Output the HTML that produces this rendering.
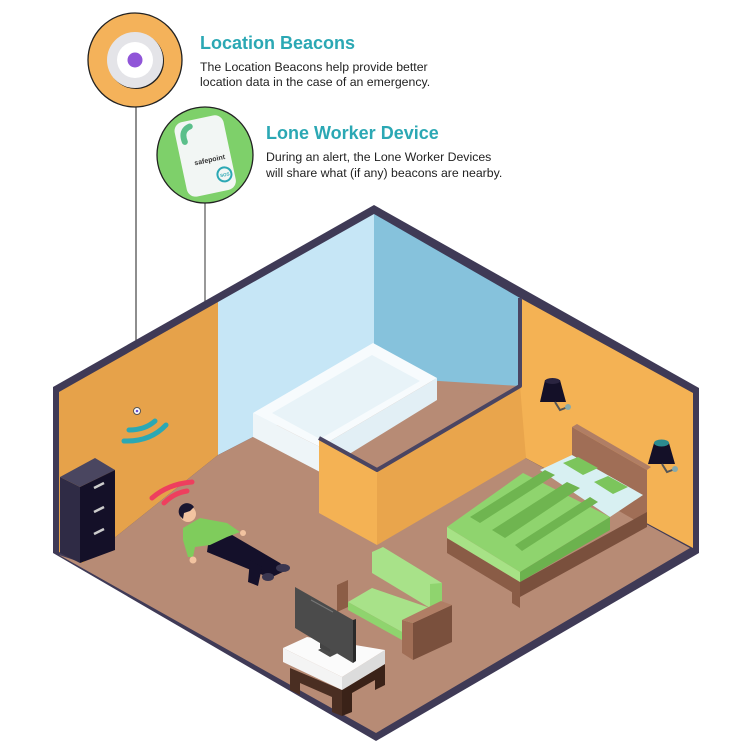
<!DOCTYPE html>
<html><head><meta charset="utf-8"><style>
html,body{margin:0;padding:0;background:#fff;width:750px;height:754px;overflow:hidden}
svg{display:block}
.h{font-family:"Liberation Sans",sans-serif;font-weight:bold;fill:#2ba8b4;font-size:18px}
.b{font-family:"Liberation Sans",sans-serif;fill:#222;font-size:12.3px}
</style></head><body>
<svg width="750" height="754" viewBox="0 0 750 754" xmlns="http://www.w3.org/2000/svg">
<line x1="136" y1="100" x2="136" y2="410" stroke="#444" stroke-width="1.2"/>
<line x1="205" y1="200" x2="205" y2="520" stroke="#555" stroke-width="1.2"/>
<polygon points="374,205 53,387 53,553 376,741 699,553 699,388" fill="#3f3a56"/>
<polygon points="59,392 218,302 218,455 83,563 59,552" fill="#e6a24a"/>
<polygon points="218,302 374,214 374,377 253,437 218,455" fill="#c6e6f6"/>
<polygon points="374,214 520,298 520,400 374,377" fill="#86c2dc"/>
<polygon points="520,298 693,393 693,548 520,455" fill="#f4b254"/>
<polygon points="83,563 218,455 253,437 374,377 520,386 520,455 690,548 376,733 59,555" fill="#b78b75"/>
<polygon points="374,377 417,403 463,420 520,390 520,400" fill="#b78b75"/>
<polygon points="320,472 437,394 463,420 377,470" fill="#b78b75"/>
<!-- tub -->
<polygon points="253,413 320,447 320,472 253,437" fill="#eef5f8"/>
<polygon points="320,447 437,378 437,400 320,472" fill="#e2eff5"/>
<polygon points="253,413 373,343 437,378 320,447" fill="#f7fbfd"/>
<polygon points="272,413 372,355 420,381 320,439" fill="#e8f3f8"/>
<!-- partition -->
<polygon points="319,438 377,470 377,545 319,513" fill="#f4b254"/>
<polygon points="377,470 520,386 526,458 377,545" fill="#e9a54c"/>
<polyline points="319,438 377,470 520,386 520,298" fill="none" stroke="#4a4562" stroke-width="4" stroke-linejoin="round"/>
<g>
<path d="M545,380 L560,380 L566,402 L540,402 Z" fill="#141028"/>
<ellipse cx="552.5" cy="381" rx="7.5" ry="3" fill="#2a2440"/>
<path d="M555,402 L560,410 L568,407" stroke="#555" stroke-width="2" fill="none"/>
<circle cx="568" cy="407" r="3" fill="#8aa"/>
<path d="M654,443 L669,443 L675,464 L648,464 Z" fill="#141028"/>
<ellipse cx="661.5" cy="443" rx="7.5" ry="3.5" fill="#2c8a8f"/>
<path d="M662,464 L667,472 L675,469" stroke="#555" stroke-width="2" fill="none"/>
<circle cx="675" cy="469" r="3" fill="#8aa"/>
</g>
<!-- bed -->
<polygon points="572,427 647,470 647,527 572,484" fill="#a06e56"/>
<polygon points="572,427 577,424 651,467 647,470" fill="#b07e65"/>
<polygon points="447,538 520,582 520,597 447,553" fill="#8a5c46"/>
<polygon points="520,582 647,512 647,527 520,597" fill="#7a503d"/>
<polygon points="512,590 520,595 520,608 512,603" fill="#8a5c46"/>
<polygon points="540,470 572,455 643,495 610,517" fill="#d8f0f2"/>
<polygon points="563,463 578,457 598,468 583,475" fill="#7cc55c"/>
<polygon points="594,482 608,476 628,487 613,494" fill="#7cc55c"/>
<polygon points="447,527 523,473 610,517 520,572" fill="#8fd46e"/>
<polygon points="470,517 545,470 555,475 480,523" fill="#6fb550"/>
<polygon points="492,530 567,482 580,488 505,538" fill="#6fb550"/>
<polygon points="515,545 590,497 598,502 522,551" fill="#6fb550"/>
<polygon points="447,527 520,572 520,582 447,538" fill="#a7e286"/>
<polygon points="520,572 610,517 610,530 520,582" fill="#6cb24e"/>
<!-- person -->
<polygon points="208,545 227,532 280,563 287,570 270,578 207,552" fill="#14102a"/>
<polygon points="250,560 262,567 258,586 248,582" fill="#14102a"/>
<ellipse cx="283" cy="568" rx="7" ry="4" fill="#3a3650"/>
<ellipse cx="268" cy="577" rx="6" ry="4" fill="#3a3650"/>
<polygon points="183,528 200,518 227,523 240,532 227,537 210,545 195,547 193,557 188,557 183,540" fill="#7fcc5c"/>
<circle cx="193" cy="560" r="3.5" fill="#f2c3a0"/>
<circle cx="243" cy="533" r="3" fill="#f2c3a0"/>
<circle cx="188" cy="514" r="8" fill="#f2c3a0"/>
<path d="M180,516 a8,8 0 0 1 14,-9 l-4,4 l-6,2 l-1,6 z" fill="#1a1630"/>
<path d="M152,498 Q168,484 192,482" stroke="#ee3f5e" stroke-width="5" fill="none" stroke-linecap="round"/>
<path d="M164,503 Q174,493 187,491" stroke="#ee3f5e" stroke-width="5" fill="none" stroke-linecap="round"/>
<circle cx="137" cy="411" r="3.5" fill="#fff" stroke="#555" stroke-width="1"/>
<circle cx="137" cy="411" r="1.3" fill="#6a4fd0"/>
<path d="M129,430 Q145,430 155,421" stroke="#2ba8b4" stroke-width="5" fill="none" stroke-linecap="round"/>
<path d="M124,441 Q150,442 166,425" stroke="#2ba8b4" stroke-width="5" fill="none" stroke-linecap="round"/>
<!-- cabinet -->
<polygon points="60,477 95,458 115,470 80,487" fill="#4a4660"/>
<polygon points="60,477 80,487 80,563 60,553" fill="#2f2b45"/>
<polygon points="80,487 115,470 115,550 80,563" fill="#141028"/>
<line x1="94" y1="488" x2="104" y2="483" stroke="#ccc" stroke-width="2.5"/>
<line x1="94" y1="512" x2="104" y2="507" stroke="#ccc" stroke-width="2.5"/>
<line x1="94" y1="534" x2="104" y2="529" stroke="#ccc" stroke-width="2.5"/>
<!-- armchair -->
<polygon points="337,585 348,580 348,607 337,612" fill="#8c5d46"/>
<polygon points="372,552 383,547 442,583 442,602 430,608 372,573" fill="#a8e289"/>
<polygon points="430,584 442,583 442,602 430,608" fill="#8fd46e"/>
<polygon points="348,602 372,588 430,608 402,632" fill="#a8e289"/>
<polygon points="348,602 402,632 402,640 348,610" fill="#8fd46e"/>
<polygon points="402,620 413,623 413,660 402,653" fill="#a06e56"/>
<polygon points="413,623 452,605 452,642 413,660" fill="#7a503d"/>
<polygon points="402,620 441,601 452,605 413,623" fill="#b07e65"/>
<!-- tv table -->
<polygon points="290,668 342,690 342,716 332,712 332,697 300,683 300,695 290,690" fill="#4a2e22"/>
<polygon points="342,690 385,664 385,685 375,690 375,680 352,693 352,712 342,716" fill="#3a2218"/>
<polygon points="283,648 342,677 342,690 283,662" fill="#f4f4f4"/>
<polygon points="342,677 385,650 385,664 342,690" fill="#dcdcdc"/>
<polygon points="283,648 307,637 385,650 342,677" fill="#fbfbfb"/>
<polygon points="318,650 328,645 340,652 330,657" fill="#4a4a4a"/>
<polygon points="320,630 330,634 330,652 320,648" fill="#444"/>
<polygon points="295,587 353,620 353,663 295,628" fill="#4b4b4b"/>
<polygon points="353,620 356,619 356,661 353,663" fill="#2a2a2a"/>
<line x1="311" y1="600" x2="333" y2="612" stroke="#777" stroke-width="1"/>
<!-- beacon circle -->
<circle cx="135" cy="60" r="47" fill="#f4b25a" stroke="#222" stroke-width="1.3"/>
<circle cx="136" cy="61" r="28" fill="#222"/>
<circle cx="135" cy="60" r="28" fill="#e4e4e8"/>
<circle cx="135" cy="60" r="18" fill="#fff"/>
<circle cx="135" cy="60" r="7.5" fill="#9055d8"/>
<!-- device circle -->
<circle cx="205" cy="155" r="48" fill="#7ed06a" stroke="#222" stroke-width="1.3"/>
<g transform="rotate(-12 205 155)">
<rect x="180" y="118" width="50" height="76" rx="9" fill="#f2f6f4"/>
<path d="M188,138 q-2,-12 8,-14" stroke="#5bbf8a" stroke-width="6" fill="none" stroke-linecap="round"/>
<text x="193" y="163" font-family="Liberation Sans,sans-serif" font-size="7" font-weight="bold" fill="#333">safepoint</text>
<circle cx="220" cy="178" r="7" fill="none" stroke="#2ba8b4" stroke-width="2"/>
<text x="215.5" y="180" font-family="Liberation Sans,sans-serif" font-size="4.5" font-weight="bold" fill="#2ba8b4">SOS</text>
</g>
<text class="h" x="200" y="49">Location Beacons</text>
<text class="b" x="200" y="71">The Location Beacons help provide better</text>
<text class="b" x="200" y="86">location data in the case of an emergency.</text>
<text class="h" x="266" y="139">Lone Worker Device</text>
<text class="b" x="266" y="161">During an alert, the Lone Worker Devices</text>
<text class="b" x="266" y="177">will share what (if any) beacons are nearby.</text>
</svg>
</body></html>
